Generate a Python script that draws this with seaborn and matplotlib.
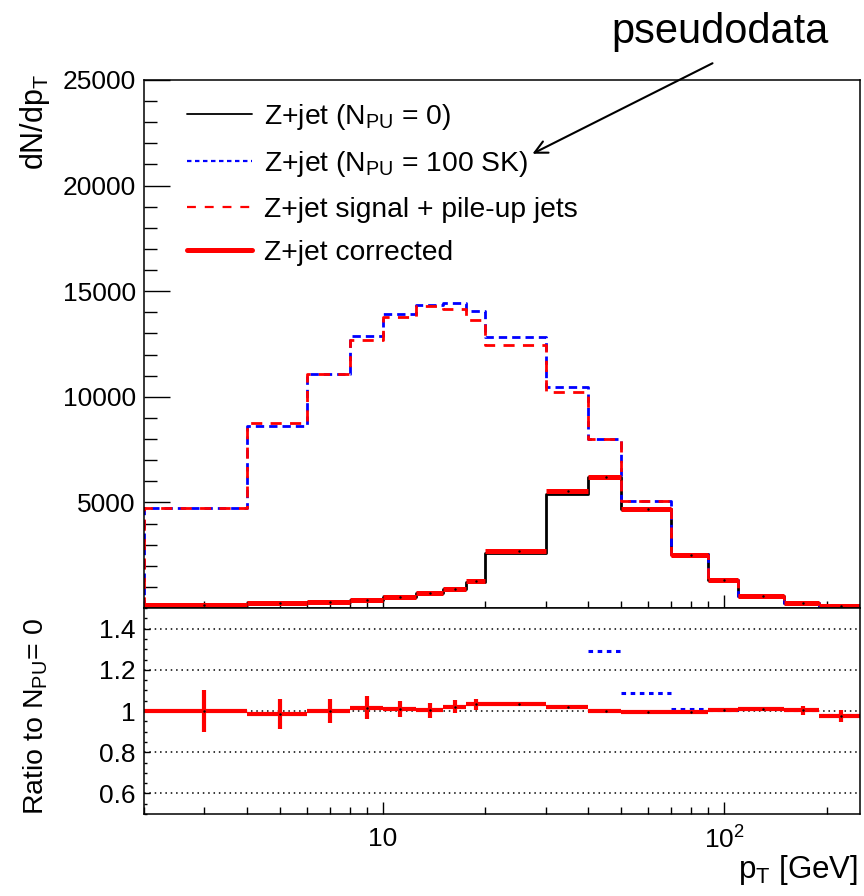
import numpy as np
import matplotlib
matplotlib.use("Agg")
import matplotlib.pyplot as plt
import seaborn as sns
from matplotlib.lines import Line2D
from matplotlib.ticker import FixedLocator, FixedFormatter, MultipleLocator, NullFormatter, LogLocator

# bin edges in pT [GeV]
edges = [2, 4, 6, 8, 10, 12.5, 15, 17.5, 20, 30, 40, 50, 70, 90, 110, 150, 190, 250]

# dN/dpT per bin
npu0 = [128, 225, 300, 373, 516, 692, 897, 1223, 2597, 5420, 6194, 4678, 2551, 1305, 565, 215, 95]
npu100_sk = [4720, 8633, 11095, 12864, 13936, 14362, 14427, 14063, 12847, 10478, 7988, 5081, 2577, 1312, 570, 216, 93]
sig_plus_pu = [4740, 8745, 11095, 12675, 13794, 14314, 14143, 13637, 12453, 10242, 7988, 5081, 2533, 1312, 568, 216, 95]
corrected = [128, 222, 300, 379, 521, 694, 915, 1263, 2683, 5540, 6194, 4664, 2533, 1312, 570, 216, 93]

# ratio panel (corrected / NPU=0)
ratio_corr = [1.000, 0.985, 1.000, 1.016, 1.010, 1.003, 1.020, 1.033, 1.033, 1.021, 1.000, 0.997, 0.993, 1.005, 1.008, 1.003, 0.976]
ratio_err = [0.104, 0.072, 0.060, 0.055, 0.040, 0.035, 0.031, 0.026, 0.008, 0.006, 0.004, 0.005, 0.006, 0.008, 0.010, 0.020, 0.030]

sns.set_style("white")
plt.rcParams['font.family'] = ['Liberation Sans', 'DejaVu Sans']
plt.rcParams['mathtext.fontset'] = 'custom'
plt.rcParams['mathtext.rm'] = 'Liberation Sans'
plt.rcParams['mathtext.it'] = 'Liberation Sans:italic'
plt.rcParams['mathtext.bf'] = 'Liberation Sans:bold'
plt.rcParams['text.color'] = 'black'
plt.rcParams['xtick.color'] = 'black'
plt.rcParams['ytick.color'] = 'black'
plt.rcParams['axes.labelcolor'] = 'black'

FS = 19

lo = np.array(edges[:-1])
hi = np.array(edges[1:])
centers = (lo + hi) / 2


def step_xy(vals):
    xs = [edges[0]] + list(edges) + [edges[-1]]
    ys = [0] + list(vals) + [vals[-1], 0]
    return xs, ys


fig = plt.figure(figsize=(8.64, 8.96), dpi=100)
W, H = 864, 896
left, right = 144, 860
ax = fig.add_axes([left / W, 1 - 608 / H, (right - left) / W, (608 - 80) / H])
axr = fig.add_axes([left / W, 1 - 814 / H, (right - left) / W, (814 - 608) / H], sharex=ax)

ax.set_xscale('log')

# main panel histograms
x, y = step_xy(npu0)
sns.lineplot(x=x, y=y, estimator=None, sort=False, drawstyle='steps-post',
             color='black', lw=2.0, ax=ax)
x, y = step_xy(npu100_sk)
sns.lineplot(x=x, y=y, estimator=None, sort=False, drawstyle='steps-post',
             color='#0000ff', lw=2.0, linestyle=(0, (3, 1.8)), ax=ax)
x, y = step_xy(sig_plus_pu)
sns.lineplot(x=x, y=y, estimator=None, sort=False, drawstyle='steps-post',
             color='#ff0000', lw=2.0, linestyle=(0, (4, 3)), ax=ax)
ax.errorbar(centers, corrected, xerr=[centers - lo, hi - centers], fmt='none',
            ecolor='#ff0000', elinewidth=3.6, capsize=0)
ax.plot(centers, corrected, 'k.', ms=1.5)

ax.set_xlim(2, 250)
ax.set_ylim(0, 25000)
ax.yaxis.set_major_locator(FixedLocator([5000, 10000, 15000, 20000, 25000]))
ax.yaxis.set_minor_locator(MultipleLocator(1000))
ax.tick_params(axis='y', which='major', direction='in', length=19, width=1, labelsize=FS, pad=6, left=True, right=False)
ax.tick_params(axis='y', which='minor', direction='in', length=9.5, width=1, left=True, right=False)
ax.tick_params(axis='x', which='major', direction='in', length=9.5, width=1, bottom=True, top=False, labelbottom=False)
ax.tick_params(axis='x', which='minor', direction='in', length=5, width=1, bottom=True, top=False, labelbottom=False)
ax.set_xlabel('')
ax.set_ylabel('')
for s in ax.spines.values():
    s.set_linewidth(1.1)
    s.set_color('black')

handles = [
    Line2D([], [], color='black', lw=1.3),
    Line2D([], [], color='#0000ff', lw=1.6, linestyle=(0, (2, 1.6))),
    Line2D([], [], color='#ff0000', lw=1.6, linestyle=(0, (4, 4))),
    Line2D([], [], color='#ff0000', lw=3.6),
]
labels = [
    r'Z+jet ($\mathrm{N}_{\mathrm{PU}}$ = 0)',
    r'Z+jet ($\mathrm{N}_{\mathrm{PU}}$ = 100 SK)',
    'Z+jet signal + pile-up jets',
    'Z+jet corrected',
]
ax.legend(handles, labels, loc='upper left', bbox_to_anchor=(0.060, 0.959), frameon=False,
          fontsize=20.3, borderpad=0, borderaxespad=0, handlelength=2.3, handletextpad=0.45,
          labelspacing=0.62)

# ratio panel
ratio_sk = np.array(npu100_sk) / np.array(npu0)
axr.hlines(ratio_sk, lo, hi, colors='#0000ff', linestyles=[(0, (1.5, 1.5))], lw=2.2)
axr.errorbar(centers, ratio_corr, xerr=[centers - lo, hi - centers], yerr=ratio_err,
             fmt='none', ecolor='#ff0000', elinewidth=3.0, capsize=0)
axr.plot(centers, ratio_corr, 'k.', ms=1.5)
for yv in [0.6, 0.8, 1.0, 1.2, 1.4]:
    axr.axhline(yv, color='black', lw=1.1, linestyle=(0, (1, 2.5)), zorder=0)

axr.set_ylim(0.5, 1.5)
axr.set_xlim(2, 250)
axr.yaxis.set_major_locator(FixedLocator([0.6, 0.8, 1.0, 1.2, 1.4]))
axr.yaxis.set_major_formatter(FixedFormatter(['0.6', '0.8', '1', '1.2', '1.4']))
axr.yaxis.set_minor_locator(MultipleLocator(0.05))
axr.xaxis.set_major_locator(FixedLocator([10, 100]))
axr.xaxis.set_major_formatter(FixedFormatter(['10', r'$10^{2}$']))
axr.xaxis.set_minor_locator(LogLocator(base=10, subs=np.arange(2, 10)))
axr.xaxis.set_minor_formatter(NullFormatter())
axr.tick_params(axis='y', which='major', direction='in', length=4.5, width=1, labelsize=FS, pad=6, left=True, right=False)
axr.tick_params(axis='y', which='minor', direction='in', length=2.3, width=1, left=True, right=False)
axr.tick_params(axis='x', which='major', direction='in', length=8.6, width=1, labelsize=FS, pad=9, bottom=True, top=False)
axr.tick_params(axis='x', which='minor', direction='in', length=5, width=1, bottom=True, top=False)
axr.set_xlabel('')
axr.set_ylabel('')
for s in axr.spines.values():
    s.set_linewidth(1.1)
    s.set_color('black')

# axis titles
fig.text(35 / W, 1 - 74 / H, r'dN/d$\mathrm{p}_{\mathrm{T}}$', rotation=90, ha='center', va='top', fontsize=22)
fig.text(36 / W, 1 - 717 / H, r'Ratio to $\mathrm{N}_{\mathrm{PU}}$= 0', rotation=90, ha='center', va='center', fontsize=20.5)
fig.text(858 / W, 1 - 870 / H, r'$\mathrm{p}_{\mathrm{T}}$ [GeV]', ha='right', va='center', fontsize=22.5)

# annotation
fig.text(720 / W, 1 - 32 / H, 'pseudodata', ha='center', va='center', fontsize=30)
ax.annotate('', xy=(530 / W, 1 - 155 / H), xycoords='figure fraction',
            xytext=(715 / W, 1 - 62 / H), textcoords='figure fraction',
            arrowprops=dict(arrowstyle='->,head_length=0.9,head_width=0.45', lw=1.5, color='black'),
            annotation_clip=False)

plt.savefig('out.png', dpi=100)
